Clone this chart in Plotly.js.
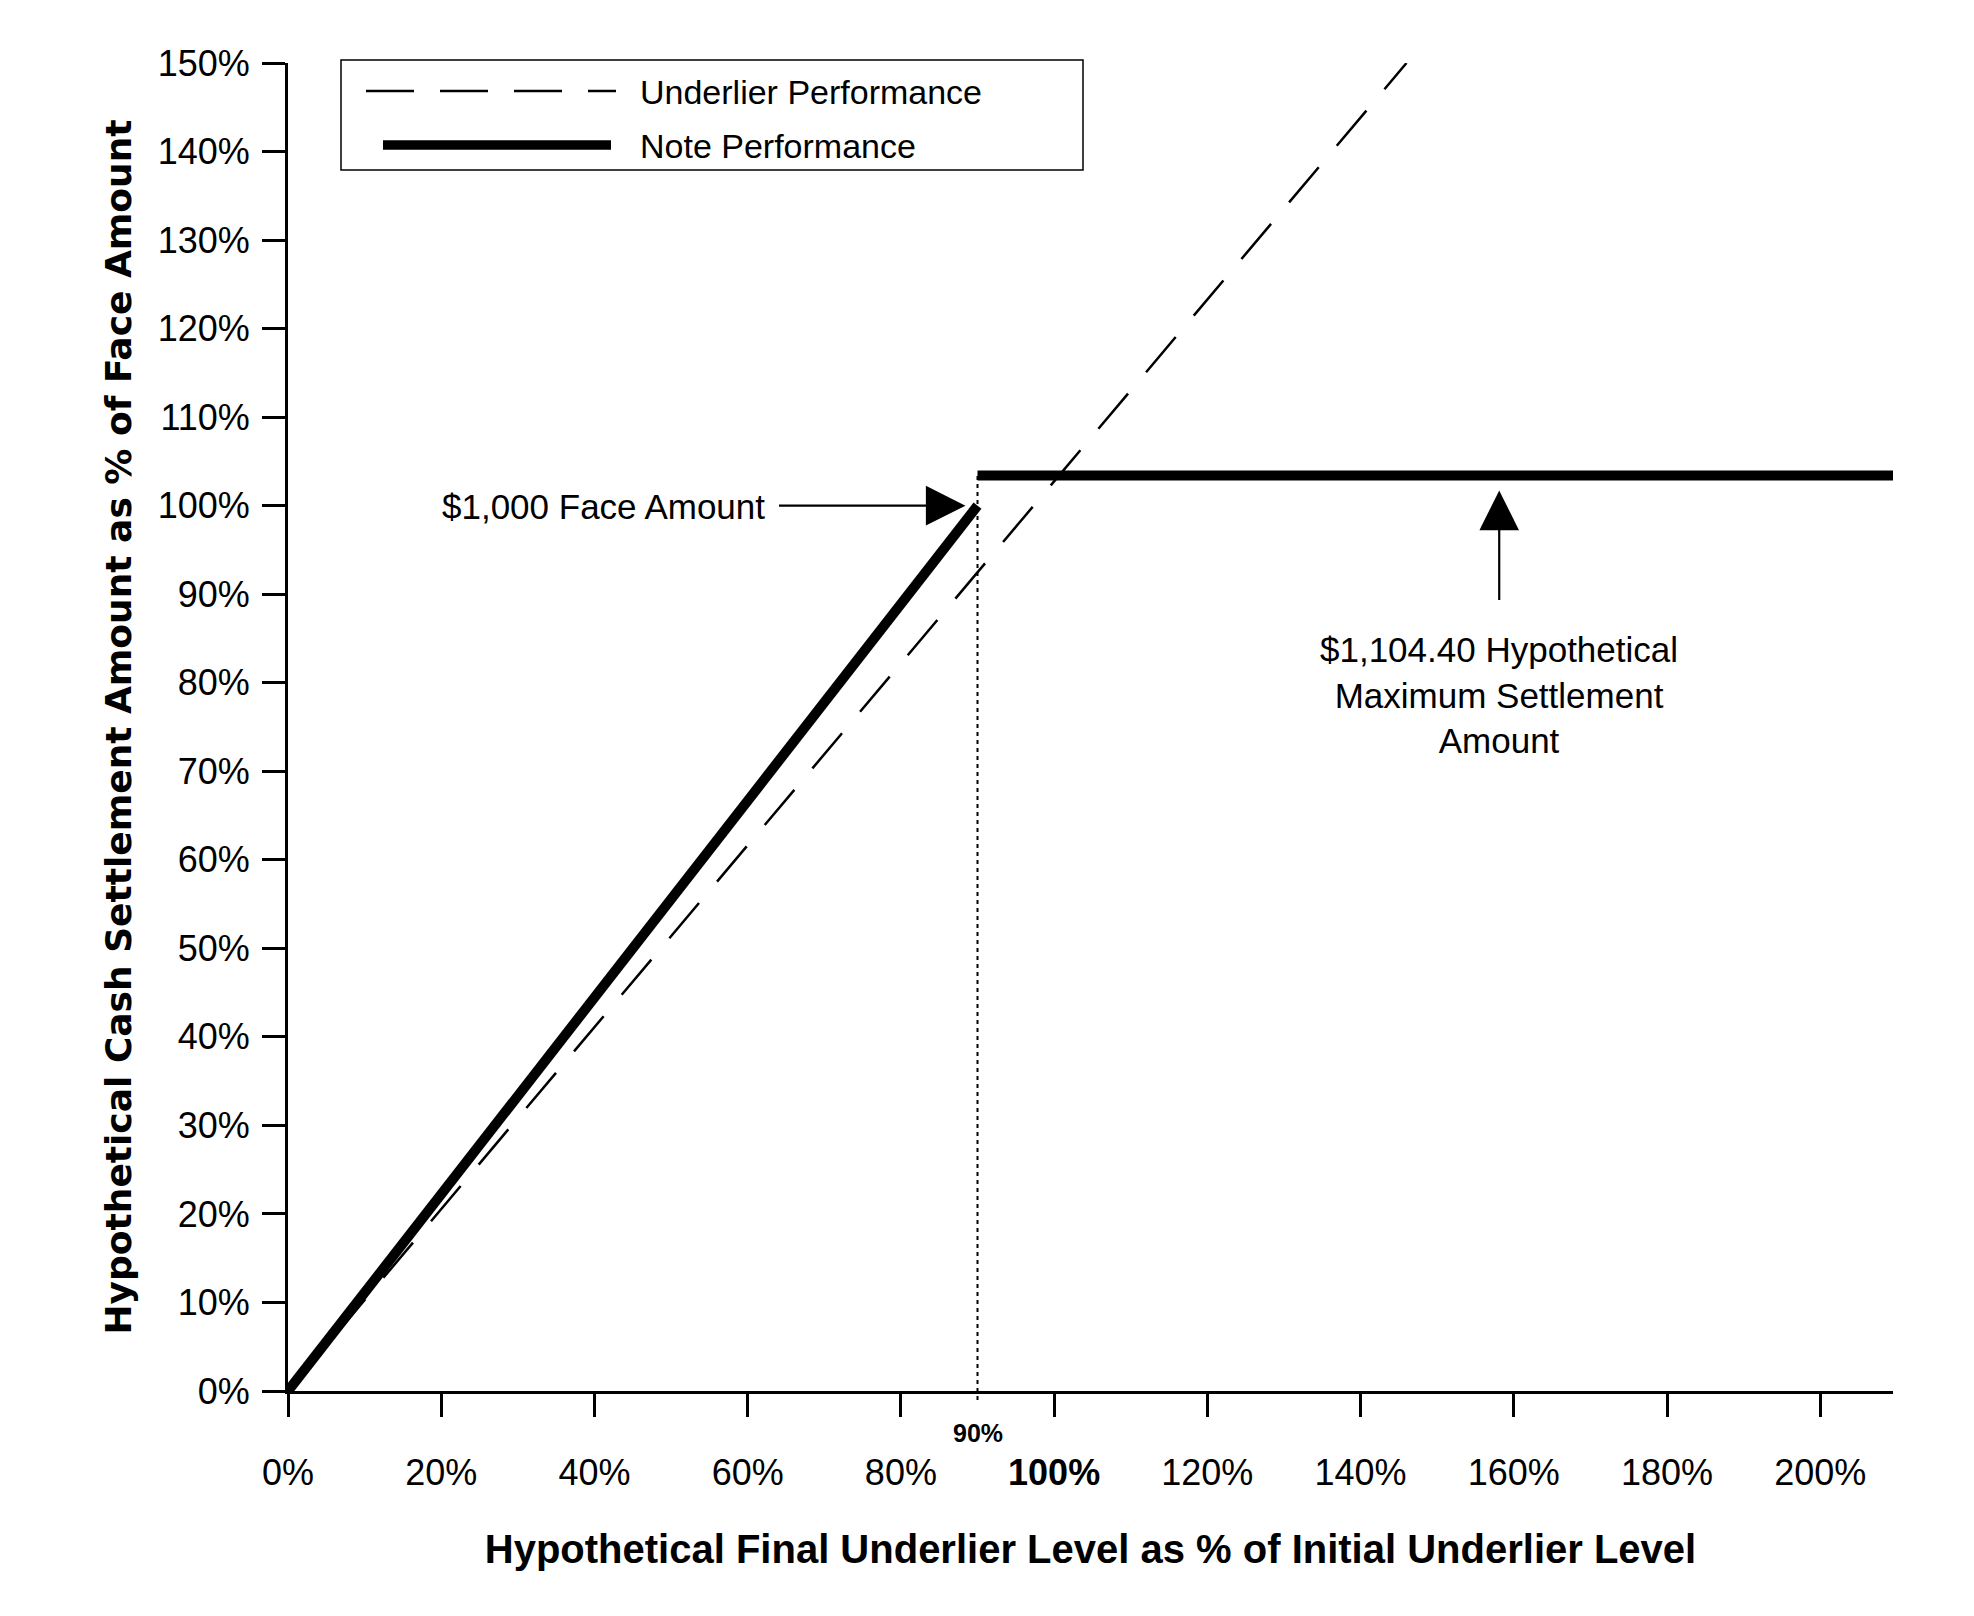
<!DOCTYPE html>
<html>
<head>
<meta charset="utf-8">
<script src="https://cdn.plot.ly/plotly-3.0.1.min.js"></script>
<style>
  html, body { margin: 0; padding: 0; background: #ffffff; }
  #chart { width: 1974px; height: 1616px; }
</style>
</head>
<body>
<div id="chart"></div>
<script>
// ---- Data ----
const underlierX = [0, 146];
const underlierY = [0, 150];

const noteX = [0, 90, null, 90, 209.5];
const noteY = [0, 100, null, 103.4, 103.4];

const thresholdX = 90;      // 90% level marked on the x axis
const capLevel = 103.4;     // drawn level of the maximum settlement line
const arrowX = 158.1;       // where the "maximum" arrow points

const xTickVals = [0, 20, 40, 60, 80, 100, 120, 140, 160, 180, 200];
const xTickText = ['0%', '20%', '40%', '60%', '80%', '<b>100%</b>', '120%', '140%', '160%', '180%', '200%'];
const yTickVals = [0, 10, 20, 30, 40, 50, 60, 70, 80, 90, 100, 110, 120, 130, 140, 150];
const yTickText = yTickVals.map(v => v + '%');

const seriesNames = ['Underlier Performance', 'Note Performance'];
const xTitle = 'Hypothetical Final Underlier Level as % of Initial Underlier Level';
const yTitle = 'Hypothetical Cash Settlement Amount as % of Face Amount';
const faceLabel = '$1,000 Face Amount';
const maxLabel = '$1,104.40 Hypothetical<br>Maximum Settlement<br>Amount';

// ---- Layout geometry ----
const W = 1974, H = 1616;
const M = { l: 288, r: 81, t: 63, b: 225 };
const plotW = W - M.l - M.r, plotH = H - M.t - M.b;
const px = x => (x - M.l) / plotW;          // page px -> paper x
const py = y => (H - M.b - y) / plotH;      // page px -> paper y
const yMax = 150;

const FONT = 'Liberation Sans, Arial, sans-serif';

const traces = [
  {
    x: underlierX, y: underlierY, type: 'scatter', mode: 'lines', name: seriesNames[0],
    line: { color: '#000000', width: 2.5, dash: '46px,28px' }, hoverinfo: 'skip'
  },
  {
    x: noteX, y: noteY, type: 'scatter', mode: 'lines', name: seriesNames[1],
    line: { color: '#000000', width: 10 }, connectgaps: false, hoverinfo: 'skip'
  }
];

const shapes = [
  // dotted marker line at the 90% level
  { type: 'line', xref: 'x', yref: 'paper', x0: thresholdX, x1: thresholdX,
    y0: py(1400), y1: capLevel / yMax, line: { color: '#000', width: 2, dash: '4px,4px' } },
  // legend box
  { type: 'rect', xref: 'paper', yref: 'paper', x0: px(341), x1: px(1083), y0: py(170), y1: py(60),
    line: { color: '#000', width: 1.5 }, fillcolor: 'rgba(0,0,0,0)' },
  // legend samples
  { type: 'line', xref: 'paper', yref: 'paper', x0: px(366), x1: px(616), y0: py(91), y1: py(91),
    line: { color: '#000', width: 2.5, dash: '48px,26px' } },
  { type: 'line', xref: 'paper', yref: 'paper', x0: px(383), x1: px(611), y0: py(145), y1: py(145),
    line: { color: '#000', width: 9.5 } }
];

const annotations = [
  // legend texts
  { xref: 'paper', yref: 'paper', x: px(638), y: py(92), xanchor: 'left', yanchor: 'middle',
    text: seriesNames[0], showarrow: false, font: { family: FONT, size: 34, color: '#000' } },
  { xref: 'paper', yref: 'paper', x: px(638), y: py(146), xanchor: 'left', yanchor: 'middle',
    text: seriesNames[1], showarrow: false, font: { family: FONT, size: 34, color: '#000' } },
  // face amount label + arrow
  { xref: 'x', yref: 'y', x: 62.5, y: 99.85, xanchor: 'right', yanchor: 'middle',
    text: faceLabel, showarrow: false, font: { family: FONT, size: 35, color: '#000' } },
  { xref: 'x', yref: 'y', x: noteX[1], y: noteY[1], text: '', showarrow: true,
    ax: -200, ay: 0, standoff: 12, arrowhead: 2, arrowsize: 3.6, arrowwidth: 2.2, arrowcolor: '#000' },
  // maximum settlement label + arrow
  { xref: 'x', yref: 'y', x: arrowX, y: 78.6, xanchor: 'center', yanchor: 'middle',
    text: maxLabel, showarrow: false, align: 'center', font: { family: FONT, size: 35, color: '#000' } },
  { xref: 'x', yref: 'y', x: arrowX, y: capLevel, text: '', showarrow: true,
    ax: 0, ay: 126, standoff: 15, arrowhead: 2, arrowsize: 3.6, arrowwidth: 2.2, arrowcolor: '#000' },
  // 90% marker label
  { xref: 'x', yref: 'paper', x: thresholdX, y: py(1433), xanchor: 'center', yanchor: 'middle',
    text: '<b>' + thresholdX + '%</b>', showarrow: false, font: { family: FONT, size: 25, color: '#000' } }
];

const layout = {
  width: W, height: H,
  margin: M,
  paper_bgcolor: '#ffffff', plot_bgcolor: '#ffffff',
  showlegend: false,
  xaxis: {
    range: [0, 209.5], showgrid: false, zeroline: false,
    showline: true, linecolor: '#000', linewidth: 3,
    ticks: 'outside', ticklen: 23, tickwidth: 3, tickcolor: '#000',
    tickmode: 'array', tickvals: xTickVals, ticktext: xTickText,
    ticklabelstandoff: 25,
    tickfont: { family: FONT, size: 36, color: '#000' },
    title: { text: xTitle, standoff: 43, font: { family: FONT, size: 40, weight: 'bold', color: '#000' } },
    fixedrange: true
  },
  yaxis: {
    range: [0, 150], showgrid: false, zeroline: false,
    showline: true, linecolor: '#000', linewidth: 3,
    ticks: 'outside', ticklen: 23, tickwidth: 3, tickcolor: '#000',
    tickmode: 'array', tickvals: yTickVals, ticktext: yTickText,
    ticklabelstandoff: 5,
    tickfont: { family: FONT, size: 36, color: '#000' },
    title: { text: yTitle, standoff: 16, font: { family: 'DejaVu Sans, sans-serif', size: 36, weight: 'bold', color: '#000' } },
    fixedrange: true
  },
  shapes: shapes,
  annotations: annotations
};

Plotly.newPlot('chart', traces, layout, { displayModeBar: false, staticPlot: true });
</script>
</body>
</html>
